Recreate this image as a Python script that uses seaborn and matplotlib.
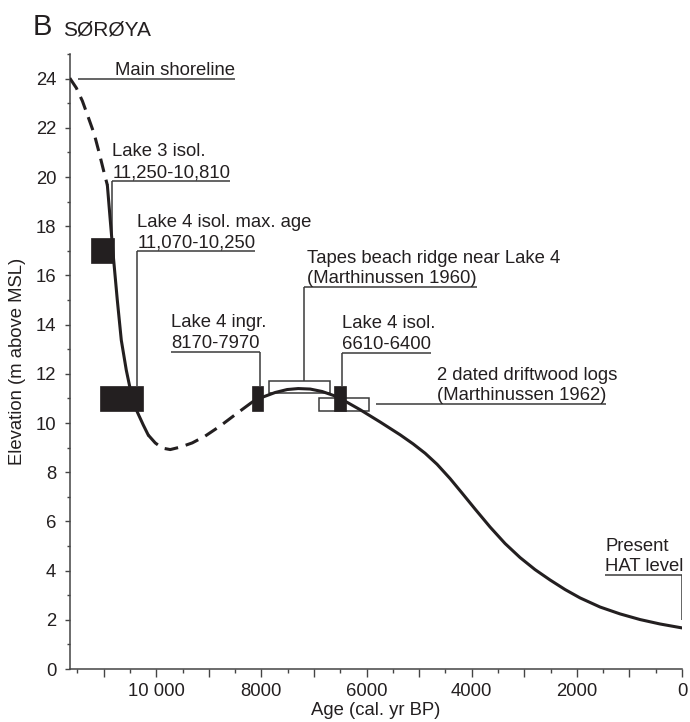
import matplotlib
matplotlib.use("Agg")
import matplotlib.pyplot as plt
from matplotlib.patches import Rectangle
from matplotlib.ticker import MultipleLocator, FuncFormatter
import pandas as pd
import seaborn as sns

# Shoreline displacement curve for Sørøya
# (age in cal. yr BP, elevation in m above MSL), split into inferred and constrained parts
upper_inferred_age = [11645, 11520, 11405, 11295, 11180, 11085, 10990, 10930]
upper_inferred_elev = [24.02, 23.62, 23.09, 22.44, 21.75, 20.98, 20.16, 19.67]

early_age = [10930, 10875, 10817, 10741, 10665, 10570, 10475, 10361, 10247, 10152]
early_elev = [19.67, 18.25, 16.79, 15.00, 13.37, 12.15, 11.18, 10.45, 9.92, 9.51]

trough_age = [10152, 10019, 9886, 9734, 9544, 9316, 9068, 8783, 8479, 8175]
trough_elev = [9.51, 9.19, 8.98, 8.92, 9.02, 9.19, 9.47, 9.88, 10.37, 10.85]

late_age = [8175, 7966, 7738, 7510, 7300, 7072, 6844, 6616, 6369, 6122, 5741,
            5361, 5114, 4886, 4658, 4411, 4183, 3935, 3650, 3365, 3080, 2795,
            2510, 2224, 1939, 1559, 1179, 798, 418, 0]
late_elev = [10.85, 11.06, 11.24, 11.36, 11.40, 11.38, 11.28, 11.11, 10.84, 10.54, 10.04,
             9.52, 9.15, 8.77, 8.32, 7.74, 7.15, 6.50, 5.77, 5.10, 4.53, 4.04,
             3.62, 3.23, 2.89, 2.52, 2.24, 2.01, 1.83, 1.67]

# Dated lake basins (isolation / ingression), age ranges and threshold elevations
lake_names = ["Lake 3 isol.", "Lake 4 isol. max. age", "Lake 4 ingr.", "Lake 4 isol."]
lake_age_old = [11250, 11070, 8170, 6610]
lake_age_young = [10810, 10250, 7970, 6400]
lake_elev_low = [16.5, 10.5, 10.5, 10.5]
lake_elev_high = [17.5, 11.5, 11.5, 11.5]

# Other sea-level indicators
ridge_age = [7850, 6700]
ridge_elev = [11.2, 11.7]
driftwood_age = [6900, 5950]
driftwood_elev = [10.5, 11.0]

main_shoreline_elev = 24.0
hat_elev = 2.0

INK = "#231f20"
RULE = "#3a3a3a"

sns.set_theme(style="ticks")
plt.rcParams["font.family"] = ["Liberation Sans", "DejaVu Sans"]
plt.rcParams["text.color"] = INK

fig = plt.figure(figsize=(6.9, 7.22), dpi=100)
ax = fig.add_axes([69.5 / 690, 53 / 722, 612.5 / 690, 615 / 722])

curve_style = dict(color=INK, linewidth=2.2, sort=False, estimator=None, ax=ax, zorder=3)
segments = [
    (upper_inferred_age, upper_inferred_elev, True),
    (early_age, early_elev, False),
    (trough_age, trough_elev, True),
    (late_age, late_elev, False),
]
for ages, elevs, inferred in segments:
    df = pd.DataFrame({"age": ages, "elev": elevs})
    line = sns.lineplot(data=df, x="age", y="elev", **curve_style)
    line.lines[-1].set_solid_joinstyle("round")
    if inferred:
        line.lines[-1].set_dashes((4.5, 2.6))

# open boxes for the beach ridge and driftwood
for ages, elevs in [(ridge_age, ridge_elev), (driftwood_age, driftwood_elev)]:
    ax.add_patch(Rectangle((ages[1], elevs[0]), ages[0] - ages[1], elevs[1] - elevs[0],
                           facecolor="white", edgecolor=RULE, linewidth=1.1, zorder=2))

# filled blocks for the lake basins
for old, young, lo, hi in zip(lake_age_old, lake_age_young, lake_elev_low, lake_elev_high):
    ax.add_patch(Rectangle((young, lo), old - young, hi - lo,
                           facecolor=INK, edgecolor=INK, linewidth=0.5, zorder=4))

ax.set_xlim(11650, 0)
ax.set_ylim(0, 25)

ax.xaxis.set_major_locator(MultipleLocator(1000))
ax.xaxis.set_minor_locator(MultipleLocator(500))
ax.yaxis.set_major_locator(MultipleLocator(2))
ax.yaxis.set_minor_locator(MultipleLocator(1))


def age_fmt(v, pos):
    v = int(round(v))
    if v % 2000:
        return ""
    return f"{v:,}".replace(",", " ") if v >= 10000 else str(v)


ax.xaxis.set_major_formatter(FuncFormatter(age_fmt))

for s in ["top", "right"]:
    ax.spines[s].set_visible(False)
for s in ["left", "bottom"]:
    ax.spines[s].set_color("#444444")
    ax.spines[s].set_linewidth(1.1)

ax.tick_params(axis="x", which="major", direction="out", length=6, width=1.0,
               color="#444444", labelsize=13.3, labelcolor=INK, pad=4)
ax.tick_params(axis="x", which="minor", direction="out", length=3, width=1.0, color="#444444")
ax.tick_params(axis="y", which="major", direction="out", length=3.6, width=1.0,
               color="#444444", labelsize=13.3, labelcolor=INK, pad=6)
ax.tick_params(axis="y", which="minor", direction="out", length=2.4, width=1.0, color="#444444")

ax.set_xlabel("Age (cal. yr BP)", fontsize=13.3, color=INK)
ax.set_ylabel("Elevation (m above MSL)", fontsize=13.3, color=INK)
ax.xaxis.set_label_coords(0.5, -0.053)
ax.yaxis.set_label_coords(-0.071, 0.5)
ax.set_facecolor("white")

FS = 13.3
rule_kw = dict(color=RULE, linewidth=1.1, zorder=1, solid_capstyle="butt")


def two_line_label(x_text, y_rule, first, second, ha="left"):
    """Two lines of text sitting on a rule; returns the second (underlined) line."""
    ax.annotate(first, (x_text, y_rule), xytext=(0, 17.6), textcoords="offset points",
                ha=ha, va="baseline", fontsize=FS, color=INK)
    return ax.annotate(second, (x_text, y_rule), xytext=(0, 2.6), textcoords="offset points",
                       ha=ha, va="baseline", fontsize=FS, color=INK)


def text_right_age(t):
    renderer = fig.canvas.get_renderer()
    bb = t.get_window_extent(renderer)
    return ax.transData.inverted().transform((bb.x1, bb.y0))[0]


# Main shoreline
ax.plot([11480, 8500], [main_shoreline_elev] * 2, **rule_kw)
ax.annotate("Main shoreline", (8500, main_shoreline_elev), xytext=(0, 2.6),
            textcoords="offset points", ha="right", va="baseline", fontsize=FS, color=INK)

fig.canvas.draw()

# Lake 3 isolation
y_r = 19.84
t = two_line_label(10836, y_r, "Lake 3 isol.", "11,250-10,810")
ax.plot([10836, text_right_age(t)], [y_r, y_r], **rule_kw)
ax.plot([10836, 10836], [y_r, lake_elev_high[0]], **rule_kw)

# Lake 4 isolation, maximum age
y_r = 16.99
t = two_line_label(10361, y_r, "Lake 4 isol. max. age", "11,070-10,250")
ax.plot([10361, text_right_age(t)], [y_r, y_r], **rule_kw)
ax.plot([10361, 10361], [y_r, lake_elev_high[1]], **rule_kw)

# Lake 4 ingression
y_r = 12.89
t = two_line_label(9715, y_r, "Lake 4 ingr.", "8170-7970")
x_end = text_right_age(t)
ax.plot([9715, x_end], [y_r, y_r], **rule_kw)
ax.plot([x_end, x_end], [y_r, lake_elev_high[2]], **rule_kw)

# Tapes beach ridge
y_r = 15.53
t = two_line_label(7130, y_r, "Tapes beach ridge near Lake 4", "(Marthinussen 1960)")
ax.plot([7186, text_right_age(t)], [y_r, y_r], **rule_kw)
ax.plot([7186, 7186], [y_r, ridge_elev[1]], **rule_kw)

# Lake 4 isolation
y_r = 12.85
t = two_line_label(6464, y_r, "Lake 4 isol.", "6610-6400")
ax.plot([6464, text_right_age(t)], [y_r, y_r], **rule_kw)
ax.plot([6464, 6464], [y_r, lake_elev_high[3]], **rule_kw)

# Driftwood logs
y_r = 10.77
t = two_line_label(4658, y_r, "2 dated driftwood logs", "(Marthinussen 1962)")
ax.plot([5817, text_right_age(t)], [y_r, y_r], **rule_kw)

# Present HAT level
y_r = 3.82
t = two_line_label(1464, y_r, "Present", "HAT level")
ax.plot([1464, 8], [y_r, y_r], **rule_kw)
ax.plot([8, 8], [y_r, hat_elev], **rule_kw)

# Panel heading
fig.text(33 / 690, 1 - 35 / 722, "B", fontsize=21, color=INK, va="baseline")
fig.text(63 / 690, 1 - 35 / 722, "SØRØYA", fontsize=15, color=INK, va="baseline")

fig.savefig("out.png", dpi=100, facecolor="white")
